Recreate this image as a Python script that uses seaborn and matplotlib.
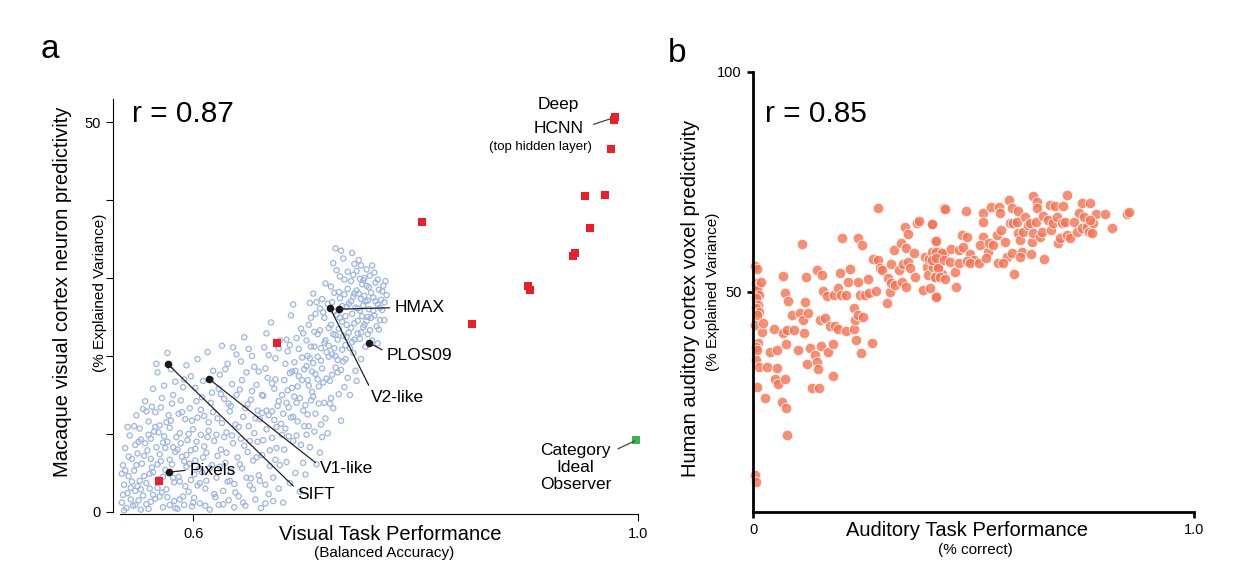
import matplotlib
matplotlib.use("Agg")
import matplotlib.pyplot as plt
import seaborn as sns

sns.set_style("ticks")
plt.rcParams['font.family'] = ['Liberation Sans', 'DejaVu Sans']
plt.rcParams['text.color'] = 'black'
plt.rcParams['axes.edgecolor'] = 'black'
plt.rcParams['xtick.color'] = 'black'
plt.rcParams['ytick.color'] = 'black'

W, H = 1247, 583

# === Panel a: model populations (visual) ===
blue_x = [
    0.536, 0.538, 0.537, 0.540, 0.541, 0.539, 0.542, 0.543, 0.544, 0.545, 0.536, 0.541, 0.544, 0.538,
    0.546, 0.547, 0.548, 0.549, 0.550, 0.551, 0.552, 0.553, 0.554, 0.547, 0.550, 0.553, 0.555, 0.548, 0.552, 0.555,
    0.556, 0.557, 0.558, 0.559, 0.560, 0.561, 0.562, 0.563, 0.564, 0.558, 0.560, 0.562, 0.564, 0.565, 0.557, 0.563, 0.561,
    0.566, 0.567, 0.568, 0.569, 0.570, 0.571, 0.572, 0.573, 0.574, 0.566, 0.568, 0.570, 0.572, 0.574, 0.575, 0.569, 0.573, 0.567,
    0.576, 0.577, 0.578, 0.579, 0.580, 0.581, 0.582, 0.583, 0.584, 0.577, 0.579, 0.581, 0.583, 0.585, 0.578, 0.582, 0.584, 0.576,
    0.586, 0.587, 0.588, 0.589, 0.590, 0.591, 0.592, 0.593, 0.594, 0.587, 0.589, 0.591, 0.593, 0.595, 0.588, 0.592, 0.594,
    0.596, 0.597, 0.598, 0.599, 0.600, 0.601, 0.602, 0.603, 0.604, 0.597, 0.599, 0.601, 0.603, 0.605, 0.598, 0.602, 0.604,
    0.606, 0.607, 0.608, 0.609, 0.610, 0.611, 0.612, 0.613, 0.614, 0.615, 0.616, 0.617, 0.618, 0.619, 0.607, 0.610, 0.612, 0.614, 0.617, 0.619,
    0.621, 0.622, 0.623, 0.624, 0.625, 0.626, 0.627, 0.628, 0.629, 0.630, 0.631, 0.632, 0.633, 0.634, 0.635, 0.636, 0.637, 0.638, 0.639,
    0.622, 0.625, 0.628, 0.631, 0.634, 0.637, 0.640,
    0.641, 0.642, 0.643, 0.644, 0.645, 0.646, 0.647, 0.648, 0.649, 0.650, 0.651, 0.652, 0.653, 0.654, 0.655, 0.656, 0.657, 0.658, 0.659,
    0.643, 0.646, 0.649, 0.652, 0.655, 0.658, 0.660,
    0.661, 0.662, 0.663, 0.664, 0.665, 0.666, 0.667, 0.668, 0.669, 0.670, 0.671, 0.672, 0.673, 0.674, 0.675, 0.676, 0.677, 0.678, 0.679,
    0.662, 0.665, 0.668, 0.671, 0.674, 0.677, 0.680, 0.666, 0.673,
    0.681, 0.682, 0.683, 0.684, 0.685, 0.686, 0.687, 0.688, 0.689, 0.690, 0.691, 0.692, 0.693, 0.694, 0.695, 0.696, 0.697, 0.698, 0.699,
    0.682, 0.685, 0.688, 0.691, 0.694, 0.697, 0.700, 0.684, 0.690, 0.699, 0.687, 0.693,
    0.701, 0.702, 0.703, 0.704, 0.705, 0.706, 0.707, 0.708, 0.709, 0.710, 0.711, 0.712, 0.713, 0.714, 0.715, 0.716, 0.717, 0.718, 0.719, 0.720,
    0.703, 0.706, 0.709, 0.712, 0.715, 0.718, 0.704, 0.710, 0.716, 0.702, 0.708, 0.714, 0.719, 0.705,
    0.721, 0.722, 0.723, 0.724, 0.725, 0.726, 0.727, 0.728, 0.729, 0.730, 0.731, 0.732, 0.733, 0.734, 0.735, 0.736, 0.737, 0.738, 0.739, 0.740,
    0.722, 0.725, 0.728, 0.731, 0.734, 0.737, 0.724, 0.730, 0.736, 0.739, 0.726, 0.733, 0.727, 0.732, 0.738,
    0.741, 0.742, 0.743, 0.744, 0.745, 0.746, 0.747, 0.748, 0.749, 0.750, 0.751, 0.752, 0.753, 0.754, 0.755, 0.756, 0.757, 0.758, 0.759,
    0.742, 0.745, 0.748, 0.751, 0.754, 0.757, 0.744, 0.750, 0.753, 0.756, 0.747, 0.743,
    0.761, 0.762, 0.763, 0.764, 0.765, 0.766, 0.767, 0.768, 0.769, 0.770, 0.771, 0.772, 0.763, 0.766, 0.760, 0.774,
]
blue_y = [
    1.2, 3.5, 6.0, 0.5, 2.4, 8.2, 4.6, 9.8, 1.6, 6.8, 4.9, 10.9, 3.1, 0.2,
    0.8, 5.3, 2.7, 12.4, 7.5, 1.5, 4.0, 9.3, 6.2, 11.0, 3.3, 0.3, 13.2, 8.6, 10.7, 2.1,
    4.6, 14.2, 1.0, 7.9, 11.6, 3.0, 9.4, 5.7, 15.8, 12.9, 0.4, 6.8, 2.2, 10.3, 8.8, 13.5, 4.9,
    1.7, 8.3, 17.9, 4.2, 11.1, 6.5, 14.6, 0.6, 9.7, 12.8, 3.1, 7.4, 2.5, 16.2, 5.4, 10.2, 8.9, 19.0,
    2.9, 9.0, 12.4, 0.9, 18.3, 6.1, 15.0, 3.8, 7.7, 20.4, 10.8, 13.9, 1.4, 9.6, 5.0, 8.3, 16.7, 11.5,
    0.4, 4.5, 10.1, 14.3, 7.1, 2.0, 17.0, 11.9, 5.8, 12.6, 8.8, 16.0, 3.3, 9.2, 1.6, 6.5, 18.8,
    2.6, 13.3, 7.9, 0.7, 10.6, 4.8, 15.9, 9.0, 19.6, 6.2, 11.7, 1.8, 14.2, 5.5, 17.4, 8.1, 3.4,
    1.1, 9.9, 5.1, 16.8, 12.3, 3.0, 7.6, 20.5, 10.4, 0.3, 14.0, 6.0, 18.1, 2.3, 13.1, 8.4, 4.0, 11.5, 15.3, 9.1,
    4.4, 12.0, 0.9, 17.6, 8.0, 21.3, 2.7, 14.5, 6.3, 10.2, 19.0, 1.5, 12.9, 5.2, 16.4, 8.8, 3.6, 11.2, 20.2,
    7.2, 15.1, 9.6, 3.9, 13.6, 0.6, 7.0,
    2.0, 15.7, 9.4, 5.6, 12.2, 22.4, 0.8, 17.9, 7.7, 11.0, 3.4, 14.4, 20.0, 6.6, 10.1, 1.6, 16.3, 13.0, 4.7,
    19.3, 8.5, 13.8, 4.3, 18.6, 9.0, 11.9,
    0.5, 7.3, 14.9, 21.1, 3.5, 10.6, 17.2, 12.4, 5.9, 24.3, 9.5, 1.4, 15.8, 19.7, 8.2, 13.6, 3.0, 22.0, 11.3,
    12.7, 18.4, 2.3, 16.5, 6.7, 14.2, 9.9, 22.9, 11.8,
    1.2, 16.9, 10.7, 6.4, 20.6, 13.4, 3.7, 25.2, 18.0, 9.1, 14.8, 5.0, 22.3, 11.6, 17.4, 2.6, 8.6, 19.8, 13.0,
    8.0, 15.6, 12.1, 19.2, 16.1, 23.5, 11.0, 22.1, 26.6, 6.3, 17.8, 14.0,
    4.8, 18.7, 12.5, 24.0, 8.3, 21.2, 15.4, 28.0, 10.3, 17.7, 6.1, 22.8, 13.9, 26.1, 19.4, 9.6, 16.6, 24.9, 12.0, 20.5,
    20.0, 14.3, 23.1, 17.0, 11.2, 21.7, 16.2, 25.4, 27.3, 9.9, 19.1, 7.6, 29.3, 26.8,
    10.1, 23.6, 16.8, 28.9, 20.2, 13.3, 25.7, 18.5, 31.0, 22.1, 15.1, 27.4, 11.7, 24.4, 19.3, 29.8, 21.4, 26.3, 17.2, 23.0,
    19.9, 26.9, 22.7, 28.2, 20.8, 25.1, 14.6, 17.9, 16.0, 28.6, 31.9, 33.5, 21.0, 24.9, 22.4,
    15.0, 27.0, 21.8, 30.4, 24.2, 18.1, 28.4, 22.9, 32.3, 25.8, 19.6, 29.2, 23.7, 27.7, 21.2, 31.1, 25.0, 28.8, 23.3,
    23.6, 28.0, 26.1, 23.0, 30.0, 27.1, 20.4, 29.9, 26.5, 24.5, 16.8, 33.2,
    22.0, 27.5, 25.2, 29.4, 23.8, 26.6, 28.5, 24.6, 27.2, 25.9, 29.0, 26.9, 30.7, 21.6, 28.1, 27.8,
]
# second pass over the denser parts of the cloud
blue2_x = [
    0.537, 0.539, 0.542, 0.545, 0.548, 0.549, 0.551, 0.553, 0.556, 0.558, 0.560, 0.562, 0.564, 0.566,
    0.568, 0.570, 0.571, 0.573, 0.575, 0.577, 0.579, 0.580, 0.582, 0.584, 0.586, 0.588, 0.590, 0.592,
    0.594, 0.596, 0.598, 0.600, 0.602, 0.604,
    0.606, 0.608, 0.609, 0.611, 0.613, 0.615, 0.616, 0.618, 0.620, 0.621, 0.623, 0.624, 0.626, 0.627,
    0.629, 0.630, 0.632, 0.633, 0.635, 0.636, 0.638, 0.639, 0.641, 0.642, 0.644, 0.645, 0.647, 0.648,
    0.650, 0.651, 0.653, 0.654, 0.656, 0.657, 0.659, 0.660, 0.662, 0.663, 0.665, 0.666, 0.668, 0.669,
    0.671, 0.672, 0.674, 0.675, 0.677, 0.678, 0.680,
    0.681, 0.683, 0.684, 0.686, 0.687, 0.689, 0.690, 0.692, 0.693, 0.695, 0.696, 0.698, 0.699, 0.700,
    0.701, 0.702, 0.703, 0.704, 0.705, 0.706, 0.707, 0.708, 0.709, 0.710, 0.711, 0.712, 0.713, 0.714,
    0.715, 0.716, 0.717, 0.718, 0.719, 0.720, 0.721, 0.722, 0.723, 0.724, 0.725, 0.726, 0.727, 0.728,
    0.729, 0.730, 0.731, 0.732, 0.733, 0.734, 0.735, 0.736, 0.737, 0.738, 0.739, 0.740, 0.741, 0.742,
    0.743, 0.744, 0.745, 0.746, 0.747, 0.748, 0.749, 0.750, 0.751, 0.752, 0.753, 0.754, 0.755, 0.756,
    0.757, 0.758, 0.759, 0.760, 0.762, 0.764, 0.766, 0.768, 0.770, 0.772, 0.767, 0.773, 0.761, 0.745,
    0.735, 0.728, 0.751,
]
blue2_y = [
    2.2, 5.3, 7.1, 3.9, 0.9, 6.0, 9.0, 2.9, 7.2, 3.7, 9.9, 1.3, 5.1, 10.9,
    6.1, 2.0, 13.4, 4.5, 8.2, 1.9, 6.7, 11.7, 4.4, 0.5, 8.0, 3.9, 12.8, 0.9,
    7.3, 10.0, 4.1, 1.2, 6.6, 12.1,
    3.7, 14.7, 7.0, 0.8, 9.6, 5.6, 17.0, 12.8, 1.9, 9.9, 15.8, 5.8, 11.4, 1.0,
    18.3, 7.6, 13.9, 4.0, 9.8, 21.1, 2.5, 15.0, 10.9, 6.1, 16.9, 1.2, 13.3, 4.4,
    20.9, 9.1, 15.5, 2.9, 12.0, 7.0, 18.0, 4.0, 15.0, 9.2, 1.1, 13.0, 20.1, 7.9,
    12.9, 4.4, 17.0, 10.9, 21.0, 6.0, 15.0,
    12.6, 19.0, 14.0, 9.7, 21.4, 15.9, 12.2, 18.1, 9.8, 20.9, 14.6, 16.9, 22.9, 18.3,
    13.7, 22.0, 16.9, 11.0, 19.7, 24.9, 18.0, 14.8, 21.2, 12.6, 26.9, 19.9, 16.1, 23.3,
    21.0, 18.4, 25.6, 14.0, 22.0, 17.1, 26.7, 21.3, 13.9, 24.0, 17.6, 22.8, 28.1, 20.0,
    25.3, 19.5, 23.5, 30.2, 18.2, 26.4, 22.6, 27.9, 19.6, 24.0, 30.8, 26.7, 21.0, 29.6,
    25.4, 27.6, 22.1, 26.2, 30.9, 24.5, 28.0, 22.2, 27.3, 25.1, 29.7, 24.0, 27.0, 29.0,
    22.8, 26.0, 30.3, 24.9, 25.8, 27.0, 29.8, 26.2, 28.3, 24.6, 23.4, 29.6, 31.6, 31.8,
    32.5, 33.8, 31.6,
]

# deep HCNN layers / other red models
red_x = [0.979, 0.978, 0.976, 0.952, 0.970, 0.957, 0.943, 0.942, 0.901, 0.903, 0.806, 0.851, 0.675, 0.569]
red_y = [50.6, 50.2, 46.5, 40.5, 40.6, 36.4, 33.2, 32.8, 29.0, 28.5, 37.2, 24.1, 21.7, 4.0]
ideal_x = [0.998]
ideal_y = [9.2]

named_lbl = ['HMAX', 'V2-like', 'PLOS09', 'V1-like', 'SIFT', 'Pixels']
named_x = [0.731, 0.723, 0.758, 0.614, 0.577, 0.578]
named_y = [26.0, 26.2, 21.7, 17.1, 19.0, 5.1]

# === Panel b: auditory models ===
aud_x = [
    0.005, 0.010, 0.006, 0.012, 0.008, 0.014, 0.006, 0.011, 0.007, 0.013, 0.009, 0.005, 0.012, 0.007,
    0.010, 0.006, 0.013, 0.008, 0.005, 0.007,
    0.020, 0.023, 0.018, 0.027, 0.031, 0.039, 0.054, 0.048, 0.054, 0.050, 0.056, 0.065, 0.074, 0.076,
    0.073, 0.074, 0.067, 0.076, 0.069, 0.073, 0.079, 0.088, 0.094, 0.103, 0.107, 0.110, 0.114, 0.116,
    0.118, 0.120, 0.122, 0.124, 0.129, 0.133, 0.141, 0.144, 0.144, 0.147, 0.150, 0.152, 0.154, 0.157,
    0.159, 0.163, 0.167, 0.171, 0.175, 0.181, 0.182, 0.184, 0.186, 0.193, 0.193, 0.197, 0.200, 0.201,
    0.211, 0.212, 0.215, 0.220, 0.228, 0.231, 0.230, 0.234, 0.237, 0.237, 0.239, 0.243, 0.246, 0.248,
    0.250, 0.254, 0.260, 0.262, 0.269, 0.271, 0.280, 0.283, 0.284, 0.288, 0.292, 0.303, 0.305, 0.311,
    0.313, 0.314, 0.320, 0.322, 0.331, 0.336, 0.337, 0.341, 0.345, 0.346, 0.348, 0.352, 0.352, 0.356,
    0.364, 0.367, 0.373, 0.376, 0.386, 0.389, 0.394, 0.396, 0.398, 0.405, 0.405, 0.409, 0.413, 0.414,
    0.416, 0.420, 0.424, 0.428, 0.432, 0.434,
    0.407, 0.435, 0.483, 0.522, 0.522, 0.540, 0.558, 0.560, 0.581, 0.587, 0.602, 0.636, 0.643, 0.645,
    0.673, 0.685, 0.702, 0.713, 0.745, 0.764, 0.777, 0.798, 0.813, 0.847, 0.853,
    0.416, 0.415, 0.428, 0.450, 0.466, 0.473, 0.485, 0.477, 0.492, 0.500, 0.522, 0.515, 0.534, 0.536,
    0.545, 0.553, 0.562, 0.571, 0.575, 0.583, 0.587, 0.590, 0.599, 0.602, 0.605, 0.609, 0.613, 0.617,
    0.624, 0.628, 0.632, 0.636, 0.642, 0.651, 0.655, 0.658, 0.670, 0.675, 0.680, 0.689, 0.692, 0.696,
    0.700, 0.707, 0.711, 0.719, 0.728, 0.734, 0.740, 0.745, 0.751, 0.757, 0.763, 0.768, 0.772, 0.764,
    0.407, 0.416, 0.420, 0.433, 0.447, 0.458, 0.468, 0.485, 0.492, 0.513, 0.528, 0.556, 0.566, 0.592,
    0.605, 0.630, 0.660, 0.413, 0.424, 0.435, 0.461, 0.415, 0.401,
]
aud_y = [
    55.8, 55.2, 52.0, 51.2, 50.5, 49.3, 48.6, 47.0, 46.3, 45.5, 44.8, 42.5, 38.3, 37.6,
    36.8, 34.5, 33.0, 28.5, 8.4, 6.9,
    41.0, 42.9, 52.3, 25.8, 33.0, 36.4, 36.8, 41.7, 32.7, 30.2, 29.2, 25.1, 23.6, 17.5,
    30.2, 38.2, 40.6, 41.4, 53.6, 49.7, 48.0, 44.8, 41.4, 36.8, 45.2, 60.8, 43.6, 40.6,
    47.8, 53.5, 33.6, 45.2, 37.2, 28.1, 35.7, 55.0, 34.2, 32.4, 28.1, 43.6, 37.7, 53.9,
    50.2, 44.2, 49.1, 36.4, 42.3, 30.9, 38.2, 49.3, 42.3, 50.8, 41.5, 54.4, 49.3, 62.3,
    41.2, 49.3, 52.3, 55.2, 41.7, 43.6, 46.3, 39.2, 44.8, 52.3, 62.3, 49.3, 36.1, 60.7,
    44.4, 49.3, 52.9, 49.7, 38.3, 57.5, 50.2, 69.0, 57.3, 55.4, 55.0, 47.4, 53.1, 50.1,
    52.0, 56.4, 59.5, 51.6, 55.0, 61.1, 52.3, 56.4, 64.8, 51.2, 59.9, 63.1, 56.9, 55.4,
    58.9, 53.5, 65.6, 66.2, 50.5, 58.0, 55.6, 53.9, 57.4, 65.4, 59.2, 55.6, 61.7, 49.1,
    53.5, 55.4, 59.2, 54.2, 58.4, 69.0,
    65.4, 68.9, 68.5, 67.9, 65.8, 69.4, 69.4, 67.9, 70.9, 69.0, 68.3, 71.8, 70.5, 69.0,
    69.8, 69.5, 69.6, 72.0, 70.2, 70.2, 67.7, 67.7, 64.6, 67.7, 68.1,
    61.6, 59.2, 58.8, 59.7, 59.5, 63.0, 62.6, 60.3, 58.6, 57.3, 62.6, 60.7, 59.2, 61.1,
    60.7, 63.0, 64.1, 61.4, 58.0, 65.6, 58.9, 65.6, 66.0, 63.3, 61.8, 59.2, 63.7, 67.1,
    65.2, 65.6, 61.4, 63.3, 66.0, 62.6, 63.7, 67.3, 66.4, 64.1, 65.6, 67.1, 61.1, 62.2,
    65.6, 66.0, 63.0, 62.2, 66.0, 63.7, 67.9, 64.5, 67.1, 64.8, 63.7, 63.3, 65.6, 66.4,
    57.3, 57.7, 55.4, 57.3, 56.9, 54.6, 56.5, 57.0, 56.5, 56.7, 57.7, 56.5, 56.5, 54.0,
    58.0, 58.6, 57.4, 53.3, 53.5, 52.9, 51.2, 48.9, 50.8,
]

fig = plt.figure(figsize=(W / 100, H / 100), dpi=100)
ax1 = fig.add_axes([113 / W, 1 - 514 / H, 525 / W, 415 / H])
ax2 = fig.add_axes([753 / W, 1 - 512 / H, 441 / W, 440 / H])

# --- panel a ---
sns.scatterplot(x=blue_x + blue2_x, y=blue_y + blue2_y, ax=ax1, marker='o', s=14,
                facecolor='none', edgecolor='#9db4e1', linewidth=0.9, zorder=2)
sns.scatterplot(x=red_x, y=red_y, ax=ax1, marker='s', s=34, color='#e8202a',
                linewidth=0, zorder=3, clip_on=False)
sns.scatterplot(x=ideal_x, y=ideal_y, ax=ax1, marker='s', s=40, color='#3cb44b',
                linewidth=0, zorder=3, clip_on=False)
sns.scatterplot(x=named_x, y=named_y, ax=ax1, marker='o', s=30, color='#1a1a1a',
                linewidth=0, zorder=4)

lbl_pos = {'HMAX': (0.781, 26.2), 'V2-like': (0.760, 14.7), 'PLOS09': (0.774, 20.0),
           'V1-like': (0.714, 5.6), 'SIFT': (0.694, 2.3), 'Pixels': (0.597, 5.3)}
lbl_rel = {'HMAX': (0, 0.5), 'V2-like': (0, 1.0), 'PLOS09': (0, 0.75),
           'V1-like': (0, 0.65), 'SIFT': (0, 0.75), 'Pixels': (0, 0.55)}
for name, x, y in zip(named_lbl, named_x, named_y):
    ax1.annotate(name, xy=(x, y), xytext=lbl_pos[name], fontsize=12.5, ha='left', va='center',
                 arrowprops=dict(arrowstyle='-', color='#222222', lw=0.9,
                                 shrinkA=1, shrinkB=2, relpos=lbl_rel[name]), zorder=5)

ax1.text(0.928, 52.2, 'Deep', fontsize=12.5, ha='center', va='center')
ax1.text(0.929, 49.2, 'HCNN', fontsize=12.5, ha='center', va='center')
ax1.text(0.912, 46.8, '(top hidden layer)', fontsize=9.5, ha='center', va='center')
ax1.annotate('', xy=(0.975, 50.4), xytext=(0.960, 49.7),
             arrowprops=dict(arrowstyle='-', color='#444444', lw=0.9, shrinkA=0, shrinkB=0))
ax1.text(0.944, 5.7, 'Category\nIdeal\nObserver', fontsize=12.5, ha='center', va='center',
         linespacing=1.2)
ax1.annotate('', xy=(0.997, 9.1), xytext=(0.982, 8.1),
             arrowprops=dict(arrowstyle='-', color='#444444', lw=0.9, shrinkA=0, shrinkB=0))

ax1.text(0.545, 51.0, 'r = 0.87', fontsize=21.5, ha='left', va='center')

ax1.set_xlim(0.528, 1.0)
ax1.set_ylim(-0.26, 52.95)
ax1.set_yticks([0, 10, 20, 30, 40, 50])
ax1.set_yticklabels(['0', '', '', '', '', '50'])
ax1.set_xticks([0.6, 1.0])
ax1.set_xticklabels(['0.6', '1.0'])
ax1.tick_params(direction='out', length=5, width=0.8, labelsize=10.5, pad=4)
for s in ['top', 'right']:
    ax1.spines[s].set_visible(False)
ax1.spines['left'].set_bounds(0, 52.95)
ax1.spines['bottom'].set_bounds(0.534, 1.0)
ax1.spines['left'].set_linewidth(0.8)
ax1.spines['bottom'].set_linewidth(0.8)

# --- panel b ---
sns.scatterplot(x=aud_x, y=aud_y, ax=ax2, s=58, color='#f47556', alpha=0.82,
                edgecolor='white', linewidth=0.7, clip_on=False, zorder=2)
ax2.text(0.027, 90.5, 'r = 0.85', fontsize=21.5, ha='left', va='center')
ax2.set_xlim(0, 1.0)
ax2.set_ylim(0, 100)
ax2.set_xticks([0, 1.0])
ax2.set_xticklabels(['0', '1.0'])
ax2.set_yticks([50, 100])
ax2.set_yticklabels(['50', '100'])
ax2.tick_params(direction='out', length=4, width=1.9, labelsize=10.5, pad=4)
for s in ['top', 'right']:
    ax2.spines[s].set_visible(False)
ax2.spines['left'].set_linewidth(2.0)
ax2.spines['bottom'].set_linewidth(2.0)

# --- labels (figure level) ---
def fx(px):
    return px / W


def fy(py):
    return 1 - py / H


fig.text(fx(50), fy(50), 'a', fontsize=24, ha='center', va='center')
fig.text(fx(677), fy(53), 'b', fontsize=24, ha='center', va='center')

fig.text(fx(63), fy(292), 'Macaque visual cortex neuron predictivity', fontsize=14.5,
         rotation=90, ha='center', va='center')
fig.text(fx(100), fy(293), '(% Explained Variance)', fontsize=11, rotation=90,
         ha='center', va='center')
fig.text(fx(390), fy(535), 'Visual Task Performance', fontsize=14.5, ha='center', va='center')
fig.text(fx(384), fy(553), '(Balanced Accuracy)', fontsize=11, ha='center', va='center')

fig.text(fx(690), fy(298), 'Human auditory cortex voxel predictivity', fontsize=14.5,
         rotation=90, ha='center', va='center')
fig.text(fx(713), fy(292), '(% Explained Variance)', fontsize=11, rotation=90,
         ha='center', va='center')
fig.text(fx(967), fy(531), 'Auditory Task Performance', fontsize=14.5, ha='center', va='center')
fig.text(fx(975), fy(550), '(% correct)', fontsize=11, ha='center', va='center')

fig.savefig('out.png', dpi=100)
